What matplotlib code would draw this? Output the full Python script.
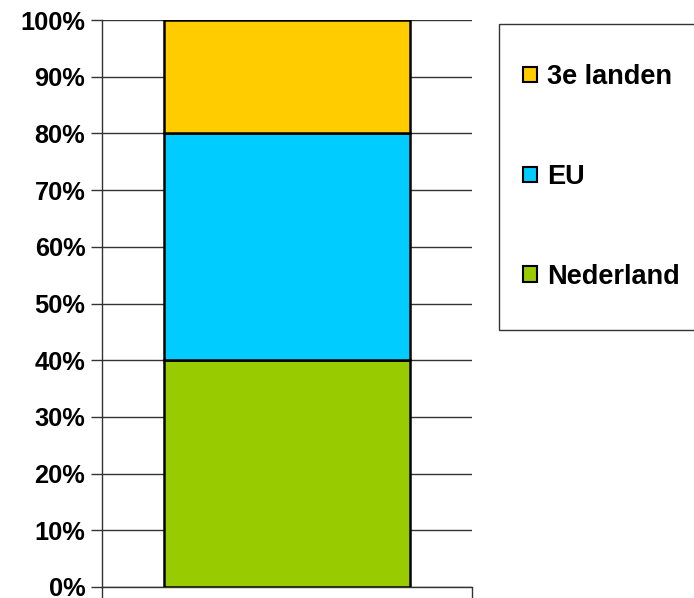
import matplotlib
matplotlib.use("Agg")
import matplotlib.pyplot as plt
from matplotlib.patches import Rectangle, Patch

categories = [""]
series_names = ["Nederland", "EU", "3e landen"]
series_values = [40, 40, 20]
series_colors = ["#99CC00", "#00CCFF", "#FFCC00"]
ytick_values = list(range(0, 101, 10))
ytick_labels = [f"{v}%" for v in ytick_values]

plt.rcParams['font.family'] = ['Liberation Sans', 'DejaVu Sans']
plt.rcParams['font.weight'] = 'bold'

W, H = 694, 598
fig = plt.figure(figsize=(W / 100, H / 100), dpi=100)
ax = fig.add_axes([102 / W, 1 - 587 / H, (472 - 102) / W, (587 - 20) / H])

bottom = 0
for name, val, col in zip(series_names, series_values, series_colors):
    ax.bar(0, val, bottom=bottom, width=0.665, color=col, edgecolor='black',
           linewidth=1.8, zorder=3, label=name)
    bottom += val

ax.set_xlim(-0.5, 0.5)
ax.set_ylim(0, 100)
ax.set_yticks(ytick_values)
ax.set_yticklabels(ytick_labels, fontsize=18.3, fontweight='bold')
ax.yaxis.grid(True, color='#333333', linewidth=1, zorder=0)
ax.set_axisbelow(True)
ax.set_xticks([-0.5, 0.5])
ax.set_xticklabels(['', ''])
ax.tick_params(axis='x', direction='out', length=8, width=1, color='#333333')
ax.tick_params(axis='y', direction='out', length=8, width=1, color='#333333', pad=4)
for s in ['top', 'right']:
    ax.spines[s].set_visible(False)
for s in ['left', 'bottom']:
    ax.spines[s].set_color('#333333')
    ax.spines[s].set_linewidth(1)

# legend frame
fig.patches.append(Rectangle((499 / W, 1 - 330 / H), (700 - 499) / W, (330 - 24) / H,
                             transform=fig.transFigure, facecolor='white',
                             edgecolor='#333333', linewidth=1, zorder=1))
handles = [Patch(facecolor=c, edgecolor='black', linewidth=1.5) for c in series_colors[::-1]]
leg = fig.legend(handles, series_names[::-1], loc='center left',
                 bbox_to_anchor=(523 / W, 1 - 177 / H), frameon=False,
                 prop={'size': 19.5, 'weight': 'bold'}, labelspacing=2.72,
                 handlelength=0.5, handleheight=0.5, handletextpad=0.4,
                 borderpad=0, borderaxespad=0)
leg.set_zorder(2)

fig.savefig("out.png", dpi=100)
